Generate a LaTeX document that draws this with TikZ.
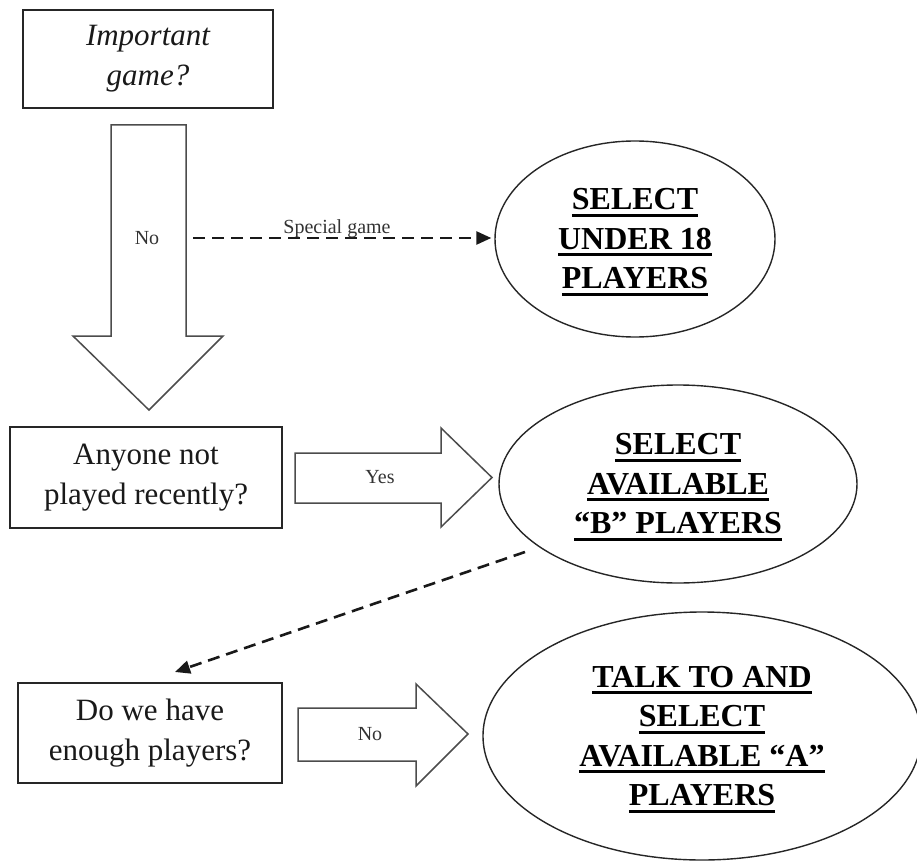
\documentclass[tikz,border=0pt]{standalone}
\usepackage{fontspec}
\setmainfont{Liberation Serif}
\usetikzlibrary{shapes.geometric,arrows.meta}

% thick underline drawn under one line of text
\newcommand{\thickul}[1]{\setbox0=\hbox{#1}\rlap{\smash{\rule[-7pt]{\wd0}{3pt}}}\box0}

\begin{document}
\begin{tikzpicture}[x=1pt,y=-1pt,
  qbox/.style={draw=black!85, line width=1.8pt, align=center, inner sep=0pt,
    text=black!90, font=\fontsize{31}{40}\selectfont},
  oval/.style={ellipse, draw=black!85, line width=1.4pt, align=center, inner sep=0pt,
    text=black, font=\bfseries\fontsize{32}{39.5}\selectfont},
  bigarrow/.style={draw=black!70, line width=1.5pt, line join=miter},
  smalllabel/.style={text=black!80, font=\fontsize{20}{24}\selectfont, inner sep=0pt},
  flow/.style={draw=black!90, line width=2.6pt, dash pattern=on 12pt off 7pt,
    -{Triangle[length=15pt,width=13pt]}}
]
\useasboundingbox (0,0) rectangle (917,861);

% question boxes
\node[qbox, minimum width=250pt, minimum height=98pt] (q1) at (148,59)
  {\itshape Important\\ \itshape game?};
\node[qbox, minimum width=272pt, minimum height=101pt] (q2) at (146,477.5)
  {Anyone not\\played recently?};
\node[qbox, minimum width=264pt, minimum height=100pt] (q3) at (150,733)
  {Do we have\\enough players?};

% outcome ovals
\node[oval, minimum width=280pt, minimum height=196pt] (o1) at (635,239)
  {\thickul{SELECT}\\\thickul{UNDER 18}\\\thickul{PLAYERS}};
\node[oval, minimum width=358pt, minimum height=198pt] (o2) at (678,484)
  {\thickul{SELECT}\\\thickul{AVAILABLE}\\\thickul{“B” PLAYERS}};
\node[oval, minimum width=438pt, minimum height=248pt] (o3) at (702,736)
  {\thickul{TALK TO AND}\\\thickul{SELECT}\\\thickul{AVAILABLE “A”}\\\thickul{PLAYERS}};

% block arrows
\draw[bigarrow] (111,125) -- (186,125) -- (186,336) -- (223,336) -- (149,410)
  -- (73,336) -- (111,336) -- cycle;
\draw[bigarrow] (295,453) -- (441,453) -- (441,428) -- (492,477.5) -- (441,527)
  -- (441,503) -- (295,503) -- cycle;
\draw[bigarrow] (298,708) -- (416,708) -- (416,684) -- (468,734) -- (416,786)
  -- (416,761) -- (298,761) -- cycle;

% block arrow labels
\node[smalllabel] (lno1) at (147,238) {No};
\node[smalllabel] (lyes) at (380,477) {Yes};
\node[smalllabel] (lno2) at (370,734) {No};

% dashed transitions
\coordinate (sgstart) at (193,238);
\draw[flow, shorten >=3pt] (sgstart) -- (o1.west |- sgstart);
\node[smalllabel] (sg) at (337,229) {Special game};

\coordinate (bstart) at (525,552);
\coordinate (btip) at (175,672);
\draw[flow] (bstart) -- (btip);
\end{tikzpicture}
\end{document}
